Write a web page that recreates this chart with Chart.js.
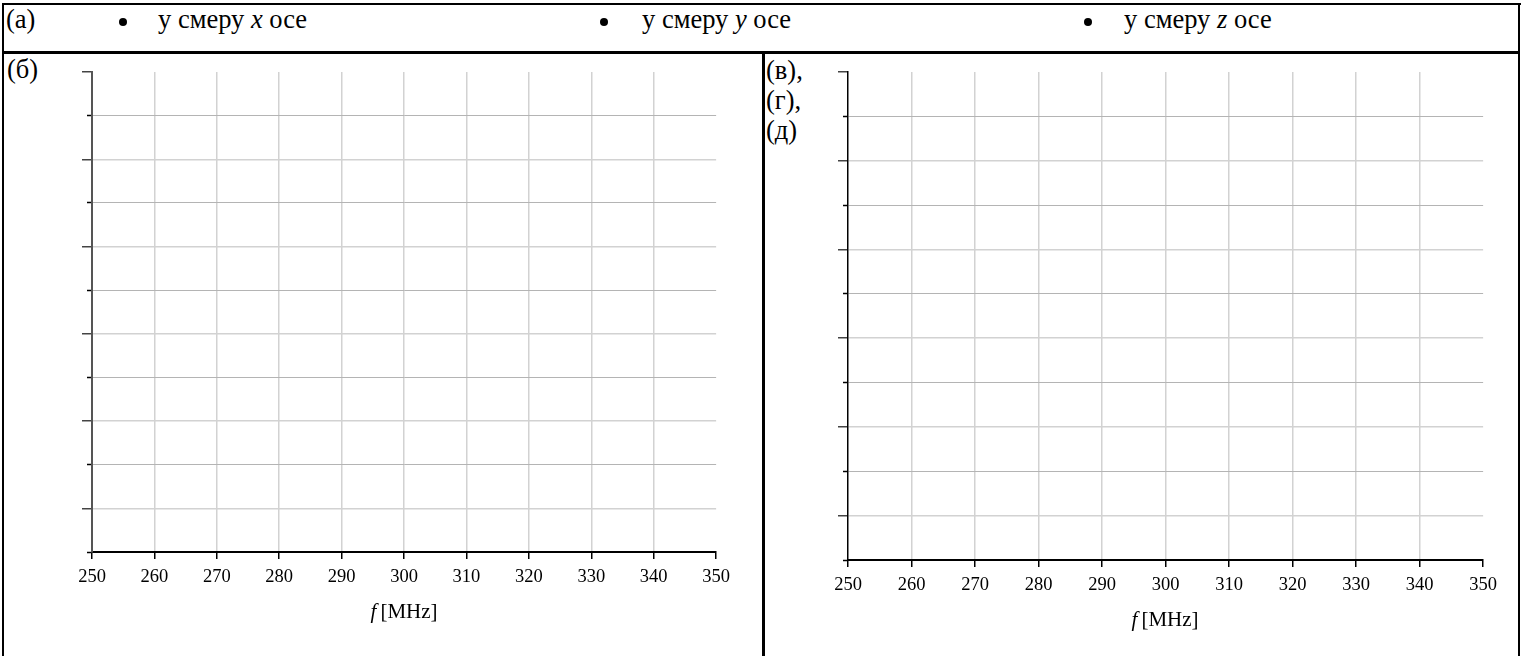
<!DOCTYPE html>
<html lang="sr">
<head>
<meta charset="utf-8">
<script src="https://cdn.jsdelivr.net/npm/chart.js@4.4.1/dist/chart.umd.min.js"></script>
<style>
  html, body { margin: 0; padding: 0; background: #fff; }
  body { width: 1527px; height: 656px; position: relative; overflow: hidden; color: #000;
         font-family: 'Liberation Serif'; }
  .line { position: absolute; background: #000; }
  .txt { position: absolute; font-family: 'Liberation Serif'; font-size: 26.5px; line-height: 30px; white-space: nowrap; }
  .dot { position: absolute; width: 8px; height: 8px; border-radius: 50%; background: #000; }
  .xtitle { position: absolute; font-family: 'Liberation Serif'; font-size: 21px; line-height: 24px; text-align: center; width: 200px; }
  .box { position: absolute; }
</style>
</head>
<body>
<!-- table frame -->
<div class="line" style="left:2px; top:3px; width:1519px; height:2px;"></div>
<div class="line" style="left:2px; top:3px; width:2px; height:653px;"></div>
<div class="line" style="left:1518px; top:3px; width:2px; height:653px;"></div>
<div class="line" style="left:2px; top:51px; width:1518px; height:3px;"></div>
<div class="line" style="left:762px; top:51px; width:3px; height:605px;"></div>

<div class="txt" style="left:6px; top:4px;">(а)</div>
<div id="header"></div>

<div class="txt" style="left:7px; top:54px;">(б)</div>
<div class="txt" style="left:766px; top:55px;">(в),<br>(г),<br>(д)</div>

<div class="box" style="left:70px; top:60px; width:667px; height:540px;"><canvas id="chartB"></canvas></div>
<div class="box" style="left:826px; top:60px; width:678px; height:548px;"><canvas id="chartV"></canvas></div>

<div class="xtitle" style="left:304px; top:599px;"><i>f</i>&#8201;[MHz]</div>
<div class="xtitle" style="left:1065px; top:607px;"><i>f</i>&#8201;[MHz]</div>

<script>
// directions listed in the header row
const axisNames = ['x', 'y', 'z'];
const bulletX = [123, 604, 1088];
const labelX = [158, 642, 1124];

// frequency axis ticks (MHz)
const freqTicks = [250, 260, 270, 280, 290, 300, 310, 320, 330, 340, 350];
// vertical grid levels (no labels), counted from the top
const yLevels = [0, 1, 2, 3, 4, 5, 6, 7, 8, 9, 10, 11];

// measured values - worksheet is empty
const xSeries = [];
const ySeries = [];
const zSeries = [];

// header row
const header = document.getElementById('header');
axisNames.forEach(function(name, i) {
  const b = document.createElement('div');
  b.className = 'dot';
  b.style.left = (bulletX[i] - 4) + 'px';
  b.style.top = '18px';
  header.appendChild(b);
  const t = document.createElement('div');
  t.className = 'txt';
  t.style.left = labelX[i] + 'px';
  t.style.top = '4px';
  t.innerHTML = 'у смеру <i>' + name + '</i> осе';
  header.appendChild(t);
});

function makeChart(id, yAxisColor, yAxisWidth) {
  const first = freqTicks[0];
  const last = freqTicks[freqTicks.length - 1];
  const top = yLevels[0];
  const bottom = yLevels[yLevels.length - 1];
  return new Chart(document.getElementById(id), {
    type: 'line',
    data: {
      datasets: [
        { label: 'x', data: xSeries, borderColor: '#000' },
        { label: 'y', data: ySeries, borderColor: '#000' },
        { label: 'z', data: zSeries, borderColor: '#000' }
      ]
    },
    options: {
      responsive: true,
      maintainAspectRatio: false,
      animation: false,
      layout: { padding: { top: 12, right: 14, left: 0, bottom: 0 } },
      plugins: { legend: { display: false }, tooltip: { enabled: false } },
      scales: {
        x: {
          type: 'linear',
          min: first,
          max: last,
          afterBuildTicks: function(scale) {
            scale.ticks = freqTicks.map(function(v) { return { value: v }; });
          },
          afterFit: function(scale) { scale.height = 48; },
          border: { color: '#000', width: 2 },
          grid: {
            color: function(ctx) {
              const v = ctx.tick ? ctx.tick.value : null;
              return (v === first || v === last) ? 'rgba(0,0,0,0)' : '#d2d2d2';
            },
            lineWidth: 1.5,
            tickColor: '#000',
            tickLength: 7,
            tickWidth: 1.5
          },
          ticks: {
            color: '#000',
            padding: 7,
            maxRotation: 0,
            font: { family: 'Liberation Serif', size: 18.5 }
          }
        },
        y: {
          type: 'linear',
          reverse: true,
          min: top,
          max: bottom,
          afterBuildTicks: function(scale) {
            scale.ticks = yLevels.map(function(v) { return { value: v }; });
          },
          afterFit: function(scale) { scale.width = 22; },
          border: { color: yAxisColor, width: yAxisWidth },
          grid: {
            color: function(ctx) {
              const v = ctx.tick ? ctx.tick.value : null;
              if (v === top || v === bottom) return 'rgba(0,0,0,0)';
              return v % 2 ? '#b4b4b4' : '#d2d2d2';
            },
            lineWidth: function(ctx) {
              return ctx.tick && ctx.tick.value % 2 ? 1 : 1.5;
            },
            borderDash: function(ctx) {
              return ctx.tick && ctx.tick.value % 2 ? [2, 2] : [];
            },
            tickColor: function(ctx) {
              return ctx.tick && ctx.tick.value % 2 ? '#000' : '#444';
            },
            tickWidth: 1.5,
            tickLength: 10,
            tickBorderDash: function(ctx) {
              return ctx.tick && ctx.tick.value % 2 ? [5, 5] : [];
            },
            tickBorderDashOffset: function(ctx) {
              return ctx.tick && ctx.tick.value % 2 ? 5 : 0;
            }
          },
          ticks: { display: false }
        }
      }
    }
  });
}

makeChart('chartB', '#555', 2);
makeChart('chartV', '#000', 1.5);
</script>
</body>
</html>
